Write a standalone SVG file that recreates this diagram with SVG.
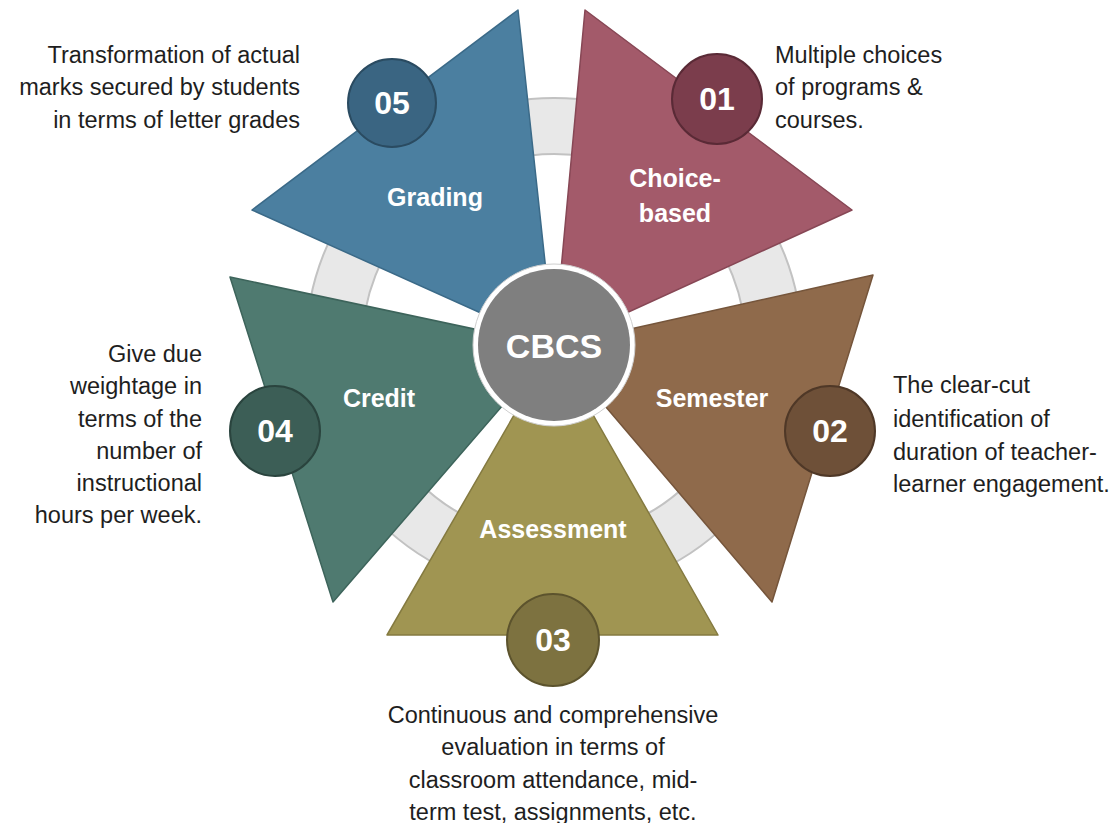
<svg xmlns="http://www.w3.org/2000/svg" width="1114" height="823" viewBox="0 0 1114 823">
<style>
.lbl{font-family:"Liberation Sans",Arial,sans-serif;font-weight:bold;font-size:25px;fill:#ffffff;text-anchor:middle}
.num{font-family:"Liberation Sans",Arial,sans-serif;font-weight:bold;font-size:32px;fill:#ffffff;text-anchor:middle}
.desc{font-family:"Liberation Sans",Arial,sans-serif;font-size:23.5px;fill:#1e1e1e}
.tri{stroke-width:1.5;stroke-linejoin:round}
.badge{stroke-width:2}
</style>
<rect width="1114" height="823" fill="#ffffff"/>
<g id="ring">
<circle cx="554" cy="346" r="220" fill="none" stroke="#c2c2c2" stroke-width="58"/>
<circle cx="554" cy="346" r="220" fill="none" stroke="#e8e8e8" stroke-width="54"/>
</g>
<g id="connectors"></g>
<g id="node-grading">
<polygon class="tri" points="554,346 518,10 252,210" fill="#4b7fa0" stroke="#3b6a88"/>
<circle class="badge" cx="392" cy="103" r="44" fill="#3a6582" stroke="#2a4b61"/>
<text class="num" x="392" y="114">05</text>
<text class="lbl" x="435" y="206">Grading</text>
<text class="desc" x="300" y="63" text-anchor="end">Transformation of actual</text>
<text class="desc" x="300" y="95" text-anchor="end">marks secured by students</text>
<text class="desc" x="300" y="128" text-anchor="end">in terms of letter grades</text>
</g>
<g id="node-choice">
<polygon class="tri" points="554,346 585,10 852,210" fill="#a35a6a" stroke="#874755"/>
<circle class="badge" cx="717" cy="99" r="45" fill="#7b3d4c" stroke="#5a2a36"/>
<text class="num" x="717" y="110">01</text>
<text class="lbl" x="675" y="187">Choice-</text>
<text class="lbl" x="675" y="222">based</text>
<text class="desc" x="775" y="63">Multiple choices</text>
<text class="desc" x="775" y="95">of programs &amp;</text>
<text class="desc" x="775" y="128">courses.</text>
</g>
<g id="node-semester">
<polygon class="tri" points="554,346 873,275 772,602" fill="#8f6a4b" stroke="#75553b"/>
<circle class="badge" cx="830" cy="431" r="45" fill="#6e5038" stroke="#4f3827"/>
<text class="num" x="830" y="442">02</text>
<text class="lbl" x="712" y="407">Semester</text>
<text class="desc" x="893" y="393">The clear-cut</text>
<text class="desc" x="893" y="427">identification of</text>
<text class="desc" x="893" y="460">duration of teacher-</text>
<text class="desc" x="893" y="492">learner engagement.</text>
</g>
<g id="node-assessment">
<polygon class="tri" points="554,346 718,635 387,635" fill="#a09552" stroke="#847a40"/>
<circle class="badge" cx="553" cy="640" r="46" fill="#7d7240" stroke="#5c532d"/>
<text class="num" x="553" y="651">03</text>
<text class="lbl" x="553" y="538">Assessment</text>
<text class="desc" x="553" y="723" text-anchor="middle">Continuous and comprehensive</text>
<text class="desc" x="553" y="755" text-anchor="middle">evaluation in terms of</text>
<text class="desc" x="553" y="788" text-anchor="middle">classroom attendance, mid-</text>
<text class="desc" x="553" y="820" text-anchor="middle">term test, assignments, etc.</text>
</g>
<g id="node-credit">
<polygon class="tri" points="554,346 333,602 230,277" fill="#4f7a70" stroke="#3d645b"/>
<circle class="badge" cx="275" cy="431" r="45" fill="#3c5e56" stroke="#2a443e"/>
<text class="num" x="275" y="442">04</text>
<text class="lbl" x="379" y="407">Credit</text>
<text class="desc" x="202" y="362" text-anchor="end">Give due</text>
<text class="desc" x="202" y="394" text-anchor="end">weightage in</text>
<text class="desc" x="202" y="427" text-anchor="end">terms of the</text>
<text class="desc" x="202" y="459" text-anchor="end">number of</text>
<text class="desc" x="202" y="491" text-anchor="end">instructional</text>
<text class="desc" x="202" y="523" text-anchor="end">hours per week.</text>
</g>
<g id="node-cbcs">
<circle cx="554" cy="345" r="81" fill="#ffffff" stroke="#cfcfcf" stroke-width="1"/>
<circle cx="554" cy="345" r="76" fill="#7f7f7f"/>
<text x="554" y="358" font-family="Liberation Sans, Arial, sans-serif" font-weight="bold" font-size="34" fill="#ffffff" text-anchor="middle">CBCS</text>
</g>
</svg>
